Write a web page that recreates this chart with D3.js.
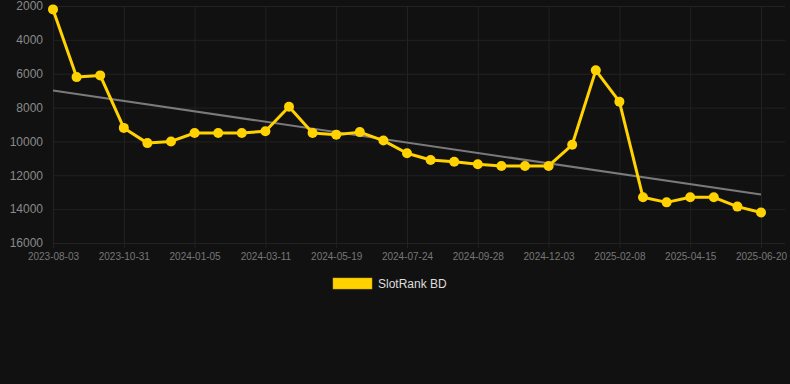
<!DOCTYPE html>
<html lang="en">
<head>
<meta charset="utf-8">
<title>SlotRank BD</title>
<style>
body { margin: 0; background: #111111; }
svg { display: block; }
.axis text { font: 12px Arial, "Liberation Sans", sans-serif; fill: #8a8a8a; }
.xaxis text { font-size: 10px; fill: #777; }
.grid line { stroke: #222222; stroke-width: 1; }
.legend text { font: 12px Arial, "Liberation Sans", sans-serif; fill: #dddddd; }
</style>
</head>
<body>
<svg width="790" height="384"></svg>

<script src="https://cdn.jsdelivr.net/npm/d3@7"></script>
<script>

// dates of each observation (only every third one is labelled)
const dates = [
  '2023-08-03', '2023-09-01', '2023-10-01', '2023-10-31', '2023-11-22', '2023-12-14',
  '2024-01-05', '2024-01-27', '2024-02-18', '2024-03-11', '2024-04-03', '2024-04-26',
  '2024-05-19', '2024-06-10', '2024-07-02', '2024-07-24', '2024-08-15', '2024-09-06',
  '2024-09-28', '2024-10-20', '2024-11-11', '2024-12-03', '2024-12-25', '2025-01-17',
  '2025-02-08', '2025-03-02', '2025-03-24', '2025-04-15', '2025-05-07', '2025-05-29',
  '2025-06-20'
];
const rank = [
  2200, 6200, 6100, 9200, 10100, 10000,
  9500, 9500, 9500, 9400, 7950, 9500,
  9600, 9450, 9950, 10700, 11100, 11200,
  11350, 11450, 11450, 11450, 10200, 5800,
  7650, 13300, 13600, 13300, 13300, 13850,
  14200
];
const yTicks = [2000, 4000, 6000, 8000, 10000, 12000, 14000, 16000];
const seriesName = 'SlotRank BD';

const LINE_COLOR = '#ffd200';

const svg = d3.select('svg'),
    pLeft = 53, pRight = 785, pTop = 6, pBottom = 243;

const data = dates.map((d, i) => ({date: d, value: rank[i]}));

const x = d3.scalePoint().domain(dates).range([pLeft, 761]);
const y = d3.scaleLinear().domain([2000, 16000]).range([pTop, pBottom]);

const labelled = dates.filter((d, i) => i % 3 === 0);

// grid
const grid = svg.append('g').attr('class', 'grid');
grid.selectAll('.h')
  .data(yTicks)
  .enter().append('line')
    .attr('x1', pLeft).attr('x2', pRight)
    .attr('y1', d => y(d) + 0.5).attr('y2', d => y(d) + 0.5);
grid.selectAll('.v')
  .data(labelled)
  .enter().append('line')
    .attr('x1', d => x(d) + 0.5).attr('x2', d => x(d) + 0.5)
    .attr('y1', pTop).attr('y2', pBottom + 5);

// y axis
svg.append('g')
  .attr('class', 'axis')
  .attr('transform', 'translate(' + (pLeft - 10) + ',0)')
  .call(d3.axisLeft(y).tickValues(yTicks).tickSize(0).tickPadding(0).tickFormat(d3.format('d')))
  .call(g => g.select('.domain').remove());

// x axis
svg.append('g')
  .attr('class', 'axis xaxis')
  .attr('transform', 'translate(0,' + (pBottom + 10) + ')')
  .call(d3.axisBottom(x).tickValues(labelled).tickSize(0).tickPadding(0))
  .call(g => g.select('.domain').remove())
  .selectAll('text').attr('dy', '0.71em');

// linear trend (least squares over the index)
const n = rank.length;
const mx = d3.mean(rank, (d, i) => i);
const my = d3.mean(rank);
const slope = d3.sum(rank, (d, i) => (i - mx) * (d - my)) / d3.sum(rank, (d, i) => (i - mx) * (i - mx));
const trend = [0, n - 1].map(i => ({date: dates[i], value: my + slope * (i - mx)}));

svg.append('path')
  .datum(trend)
  .attr('fill', 'none')
  .attr('stroke', '#7a7a7a')
  .attr('stroke-width', 2)
  .attr('d', d3.line().x(d => x(d.date)).y(d => y(d.value)));

// series
svg.append('path')
  .datum(data)
  .attr('fill', 'none')
  .attr('stroke', LINE_COLOR)
  .attr('stroke-width', 3)
  .attr('stroke-linejoin', 'round')
  .attr('d', d3.line().x(d => x(d.date)).y(d => y(d.value)));

svg.append('g')
  .selectAll('circle')
  .data(data)
  .enter().append('circle')
    .attr('cx', d => x(d.date))
    .attr('cy', d => y(d.value))
    .attr('r', 5)
    .attr('fill', LINE_COLOR);

// legend
const legend = svg.append('g').attr('class', 'legend')
  .attr('transform', 'translate(333,278)');
legend.append('rect')
  .attr('width', 39).attr('height', 11)
  .attr('fill', LINE_COLOR)
  .attr('stroke', '#c9a600').attr('stroke-width', 0.5);
legend.append('text')
  .attr('x', 45).attr('y', 5.5).attr('dy', '0.35em')
  .text(seriesName);

</script>
</body>
</html>
